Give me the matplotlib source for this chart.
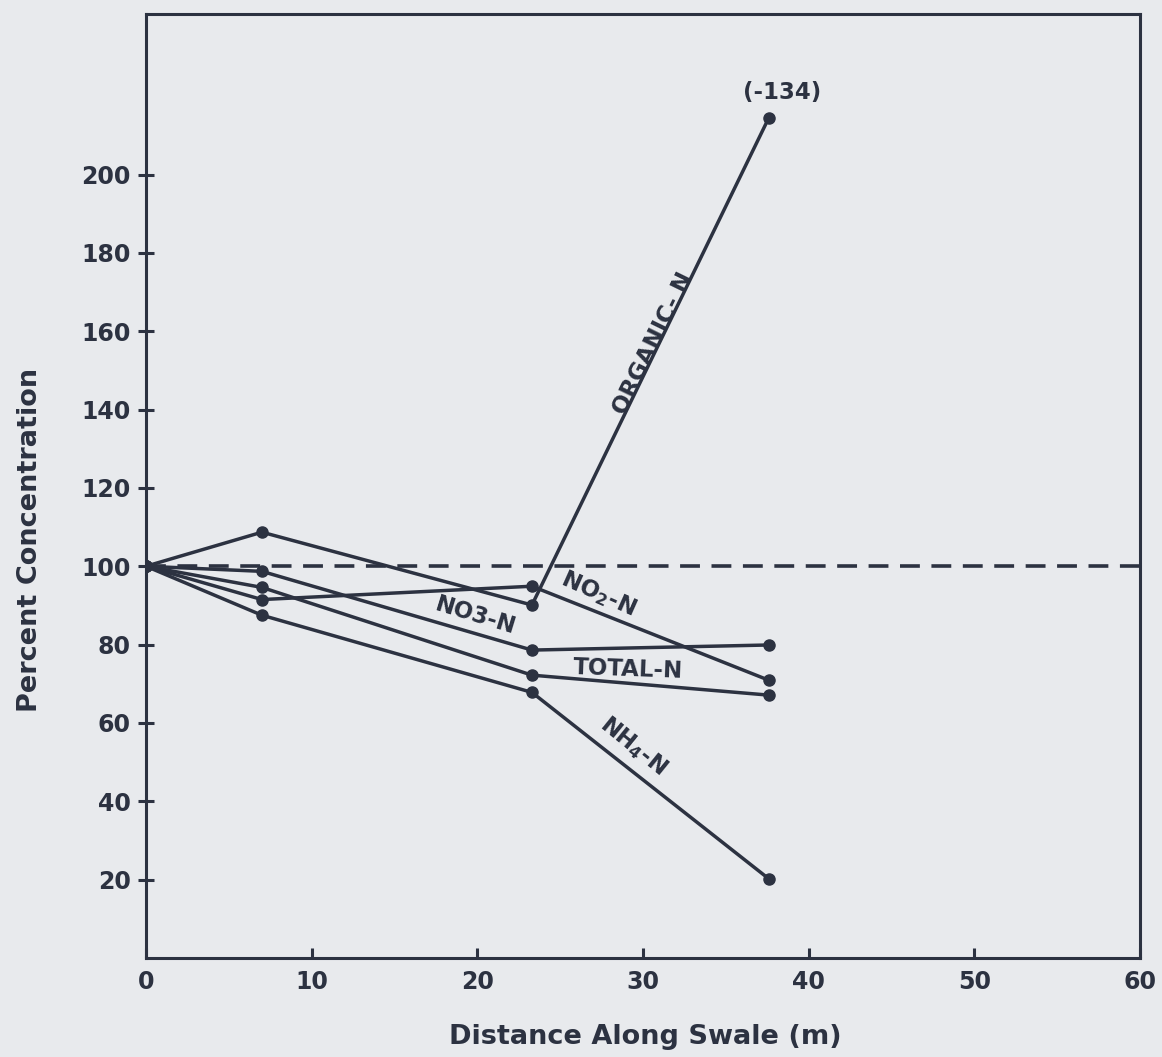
import matplotlib.pyplot as plt

# distance of the sampling stations along the swale (m)
distance = [0, 7, 23.3, 37.6]

# percent of inflow concentration at each station
organic_n = [100, 108.7, 90.1, 214.5]
no2_n = [100, 91.5, 94.9, 70.9]
no3_n = [100, 98.7, 78.6, 79.9]
total_n = [100, 94.6, 72.2, 67.1]
nh4_n = [100, 87.5, 67.8, 20.2]

x_ticks = [0, 10, 20, 30, 40, 50, 60]
y_ticks = [20, 40, 60, 80, 100, 120, 140, 160, 180, 200]

ink = '#2c3241'
paper = '#e8eaed'

plt.rcParams['font.family'] = 'DejaVu Sans'
plt.rcParams['font.weight'] = 'bold'

fig = plt.figure(figsize=(11.62, 10.57), dpi=100, facecolor=paper)
ax = fig.add_axes([0.1256, 0.0937, 0.8554, 0.8931], facecolor=paper)

# reference level (100 %)
ax.axhline(100, color=ink, lw=2.6, dashes=(5.5, 3.2), zorder=1)

for series in [organic_n, no2_n, no3_n, total_n, nh4_n]:
    ax.plot(distance, series, color=ink, lw=2.5, marker='o', ms=8,
            solid_capstyle='round', zorder=3)

# line labels written along the curves
lab = dict(color=ink, fontsize=16.5, ha='center', va='center',
           rotation_mode='anchor')
ax.text(30.6, 157, 'ORGANIC- N', rotation=64, **lab)
ax.text(38.4, 221, '(-134)', **lab)
ax.text(27.3, 93.0, r'NO$_2$-N', rotation=-24, **lab)
ax.text(19.9, 87.3, 'NO3-N', rotation=-17, **lab)
ax.text(29.1, 73.6, 'TOTAL-N', rotation=-2, **lab)
ax.text(29.4, 54.2, r'NH$_4$-N', rotation=-39, **lab)

ax.set_xlim(0, 60)
ax.set_ylim(0, 241)
ax.set_xticks(x_ticks)
ax.set_yticks(y_ticks)

for s in ax.spines.values():
    s.set_color(ink)
    s.set_linewidth(2.2)

ax.tick_params(axis='x', direction='in', length=7, width=2.2, color=ink,
               labelsize=17, labelcolor=ink, pad=9)
ax.tick_params(axis='y', direction='inout', length=12, width=2.2, color=ink,
               labelsize=17, labelcolor=ink, pad=5)

ax.set_xlabel('Distance Along Swale (m)', fontsize=19.5, fontweight='bold',
              color=ink, va='center')
ax.set_ylabel('Percent Concentration', fontsize=19.5, fontweight='bold',
              color=ink, va='center')
ax.xaxis.set_label_coords(0.502, -0.084)
ax.yaxis.set_label_coords(-0.117, 0.443)

fig.savefig('out.png', dpi=100, facecolor=paper)
